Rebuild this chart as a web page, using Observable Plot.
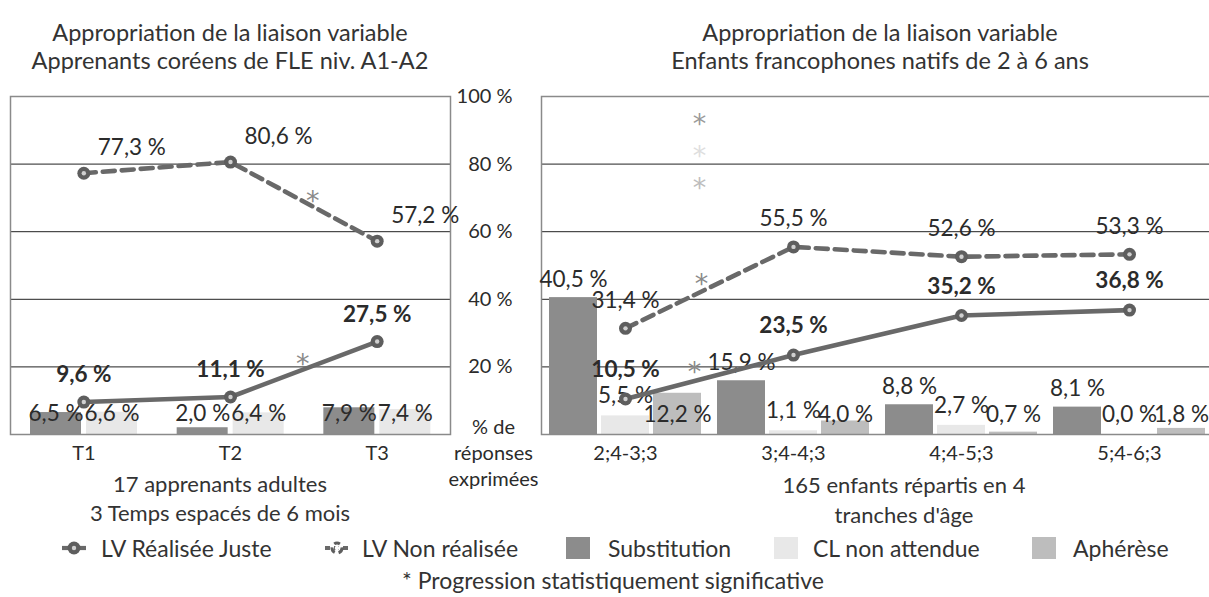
<!DOCTYPE html>
<html>
<head>
<meta charset="utf-8">
<script src="https://cdn.jsdelivr.net/npm/d3@7"></script>
<script src="https://cdn.jsdelivr.net/npm/@observablehq/plot@0.6"></script>
<style>
  html, body { margin: 0; padding: 0; background: #fff; }
  #page { position: relative; width: 1209px; height: 597px; overflow: hidden; font-family: Lato, "Open Sans", sans-serif; color: #333; }
  #page svg { position: absolute; left: 0; top: 0; }
  .txt { position: absolute; text-align: center; white-space: nowrap; color: #333; }
  .leg { position: absolute; top: 534px; font-size: 23px; line-height: 28px; white-space: nowrap; color: #333; }
  .sw { position: absolute; width: 24px; height: 22px; top: 537px; }
</style>
</head>
<body>
<div id="page"></div>
<script>
// ---------- data ----------
const leftTitle = ["Appropriation de la liaison variable", "Apprenants coréens de FLE niv. A1-A2"];
const rightTitle = ["Appropriation de la liaison variable", "Enfants francophones natifs de 2 à 6 ans"];
const leftCaption = ["17 apprenants adultes", "3 Temps espacés de 6 mois"];
const rightCaption = ["165 enfants répartis en 4", "tranches d'âge"];
const yAxisTitle = ["% de", "réponses", "exprimées"];
const footnote = "* Progression statistiquement significative";

const seriesNames = ["LV Réalisée Juste", "LV Non réalisée", "Substitution", "CL non attendue", "Aphérèse"];

const leftCategories = ["T1", "T2", "T3"];
const leftRealiseeJuste = [9.6, 11.1, 27.5];
const leftNonRealisee = [77.3, 80.6, 57.2];
const leftSubstitution = [6.5, 2.0, 7.9];
const leftCLNonAttendue = [6.6, 6.4, 7.4];

const rightCategories = ["2;4-3;3", "3;4-4;3", "4;4-5;3", "5;4-6;3"];
const rightRealiseeJuste = [10.5, 23.5, 35.2, 36.8];
const rightNonRealisee = [31.4, 55.5, 52.6, 53.3];
const rightSubstitution = [40.5, 15.9, 8.8, 8.1];
const rightCLNonAttendue = [5.5, 1.1, 2.7, 0.0];
const rightApherese = [12.2, 4.0, 0.7, 1.8];

const yTicks = [20, 40, 60, 80, 100];
const gridValues = [20, 40, 60, 80];

// significant progressions (between two consecutive categories)
const leftSigLines = [{series: "LV Non réalisée", from: 1}, {series: "LV Réalisée Juste", from: 1}];
const rightSigLines = [{series: "LV Non réalisée", from: 0}, {series: "LV Réalisée Juste", from: 0}];
const rightSigBars = ["Substitution", "CL non attendue", "Aphérèse"];

// ---------- styles ----------
const colors = {
  line: "#696969",
  marker: "#5e5e5e",
  markerCenter: "#d0d0d0",
  "Substitution": "#8c8c8c",
  "CL non attendue": "#e8e8e8",
  "Aphérèse": "#bdbdbd",
  grid: "#222",
  frame: "#8a8a8a",
  text: "#2b2b2b",
  star: "#8a8a8a"
};
const LABEL = 22.5, TICK = 20, STAR = 27, STARFONT = "'DejaVu Sans', sans-serif";
const fmt = v => v.toFixed(1).replace(".", ",") + " %";
const rows = (cats, vals) => cats.map((c, i) => ({cat: c, v: vals[i], i}));

const page = document.getElementById("page");
const W = 1209, H = 597, top0 = 96, bottom0 = 163;

function lineMarks(cats, vals, dashed) {
  const d = rows(cats, vals);
  return [
    Plot.line(d, {x: "cat", y: "v", stroke: colors.line, strokeWidth: 4.6,
      strokeDasharray: dashed ? "12,7" : null, curve: "linear"}),
    Plot.dot(d, {x: "cat", y: "v", r: 6.5, fill: colors.marker}),
    Plot.dot(d, {x: "cat", y: "v", r: 2.2, fill: colors.markerCenter})
  ];
}
const fontStyle = {background: "transparent", fontFamily: "Lato, 'Open Sans', sans-serif", fontSize: "20px", color: colors.text, overflow: "visible"};

// ---------- left chart ----------
const lb = (450 - 10) / 3;
const lSub = rows(leftCategories, leftSubstitution);
const lCL = rows(leftCategories, leftCLNonAttendue);
const lRJ = rows(leftCategories, leftRealiseeJuste);
const lNR = rows(leftCategories, leftNonRealisee);

const leftPlot = Plot.plot({
  width: W, height: H,
  marginLeft: 10, marginRight: W - 450, marginTop: top0, marginBottom: bottom0,
  x: {domain: leftCategories, padding: 0, round: false, axis: null},
  y: {domain: [0, 100], axis: null},
  style: fontStyle,
  marks: [
    Plot.ruleY(gridValues, {stroke: colors.grid, strokeWidth: 1}),
    Plot.barY(lSub, {x: "cat", y: "v", fill: colors["Substitution"], insetLeft: 20, insetRight: lb - 71}),
    Plot.barY(lCL, {x: "cat", y: "v", fill: colors["CL non attendue"], insetLeft: 76, insetRight: lb - 127}),
    Plot.frame({stroke: colors.frame, strokeWidth: 1.5}),
    Plot.text(lSub, {x: "cat", y: 0, text: d => fmt(d.v), dx: 20 + 25.5 - lb / 2, dy: -21, fontSize: LABEL, fill: colors.text}),
    Plot.text(lCL, {x: "cat", y: 0, text: d => fmt(d.v), dx: 76 + 25.5 - lb / 2, dy: -21, fontSize: LABEL, fill: colors.text}),
    ...lineMarks(leftCategories, leftNonRealisee, true),
    ...lineMarks(leftCategories, leftRealiseeJuste, false),
    Plot.text(lNR, {x: "cat", y: "v", text: d => fmt(d.v), dx: 48, dy: -25, fontSize: LABEL, fill: colors.text}),
    Plot.text(lRJ, {x: "cat", y: "v", text: d => fmt(d.v), dy: -27, fontSize: LABEL, fontWeight: "bold", fill: colors.text}),
    // significance stars on lines
    Plot.text(leftSigLines.filter(s => s.series === "LV Non réalisée"), {
      x: s => leftCategories[s.from], y: s => (leftNonRealisee[s.from] + leftNonRealisee[s.from + 1]) / 2,
      text: () => "*", dx: lb / 2 + 9, dy: 0, fontSize: STAR, fontFamily: STARFONT, fill: colors.star}),
    Plot.text(leftSigLines.filter(s => s.series === "LV Réalisée Juste"), {
      x: s => leftCategories[s.from], y: s => (leftRealiseeJuste[s.from] + leftRealiseeJuste[s.from + 1]) / 2,
      text: () => "*", dx: lb / 2 - 1, dy: -5, fontSize: STAR, fontFamily: STARFONT, fill: colors.star}),
    // x tick labels
    Plot.text(leftCategories, {x: d => d, text: d => d, frameAnchor: "bottom", lineAnchor: "top", dy: 11, fontSize: TICK, fill: colors.text}),
    // y tick labels (between the two panels)
    Plot.text(yTicks, {y: d => d, text: d => d + " %", frameAnchor: "right", textAnchor: "end", dx: 62, fontSize: 20, fill: colors.text}),
    Plot.text([yAxisTitle.join("\n")], {y: 0, text: d => d, frameAnchor: "right", textAnchor: "middle", lineAnchor: "top", dx: 43, dy: -19, lineHeight: 1.3, fontSize: 20, fill: colors.text})
  ]
});
page.appendChild(leftPlot);

// ---------- right chart ----------
const rb = (1213 - 541) / 4;
const rSub = rows(rightCategories, rightSubstitution);
const rCL = rows(rightCategories, rightCLNonAttendue);
const rAp = rows(rightCategories, rightApherese);
const rRJ = rows(rightCategories, rightRealiseeJuste);
const rNR = rows(rightCategories, rightNonRealisee);

const rightPlot = Plot.plot({
  width: 1213, height: H,
  marginLeft: 541, marginRight: 0, marginTop: top0, marginBottom: bottom0,
  x: {domain: rightCategories, padding: 0, round: false, axis: null},
  y: {domain: [0, 100], axis: null},
  style: {...fontStyle, maxWidth: "none"},
  marks: [
    Plot.ruleY(gridValues, {stroke: colors.grid, strokeWidth: 1}),
    Plot.barY(rSub, {x: "cat", y: "v", fill: colors["Substitution"], insetLeft: 8, insetRight: rb - 56}),
    Plot.barY(rCL, {x: "cat", y: "v", fill: colors["CL non attendue"], insetLeft: 60, insetRight: rb - 108}),
    Plot.barY(rAp, {x: "cat", y: "v", fill: colors["Aphérèse"], insetLeft: 112, insetRight: rb - 160}),
    Plot.frame({stroke: colors.frame, strokeWidth: 1.5}),
    Plot.text(rSub, {x: "cat", y: "v", text: d => fmt(d.v), dx: 32 - rb / 2, dy: -18, fontSize: LABEL, fill: colors.text}),
    Plot.text(rCL, {x: "cat", y: "v", text: d => fmt(d.v), dx: 0, dy: -20, fontSize: LABEL, fill: colors.text}),
    Plot.text(rAp, {x: "cat", y: 0, text: d => fmt(d.v), dx: 136 - rb / 2, dy: -20, fontSize: LABEL, fill: colors.text}),
    ...lineMarks(rightCategories, rightNonRealisee, true),
    ...lineMarks(rightCategories, rightRealiseeJuste, false),
    Plot.text(rNR, {x: "cat", y: "v", text: d => fmt(d.v), dy: -28, fontSize: LABEL, fill: colors.text}),
    Plot.text(rRJ, {x: "cat", y: "v", text: d => fmt(d.v), dy: -29, fontSize: LABEL, fontWeight: "bold", fill: colors.text}),
    // significance stars
    Plot.text(rightSigLines.filter(s => s.series === "LV Non réalisée"), {
      x: s => rightCategories[s.from], y: s => (rightNonRealisee[s.from] + rightNonRealisee[s.from + 1]) / 2,
      text: () => "*", dx: rb / 2 - 8, dy: -3, fontSize: STAR, fontFamily: STARFONT, fill: colors.star}),
    Plot.text(rightSigLines.filter(s => s.series === "LV Réalisée Juste"), {
      x: s => rightCategories[s.from], y: s => (rightRealiseeJuste[s.from] + rightRealiseeJuste[s.from + 1]) / 2,
      text: () => "*", dx: rb / 2 - 15, dy: -5, fontSize: STAR, fontFamily: STARFONT, fill: colors.star}),
    Plot.text(rightSigBars, {
      x: () => rightCategories[0], y: (s, i) => 94 - i * 9.4,
      text: () => "*", dx: rb / 2 - 10, dy: 8, fontSize: STAR, fontFamily: STARFONT,
      fill: s => s === "Substitution" ? "#9a9a9a" : s === "CL non attendue" ? "#dedede" : "#bdbdbd"}),
    Plot.text(rightCategories, {x: d => d, text: d => d, frameAnchor: "bottom", lineAnchor: "top", dy: 11, fontSize: TICK, fill: colors.text})
  ]
});
rightPlot.style.maxWidth = "none";
page.appendChild(rightPlot);

// ---------- HTML texts ----------
function addText(lines, cx, top, lh, fs) {
  const d = document.createElement("div");
  d.className = "txt";
  d.style.left = (cx - 300) + "px";
  d.style.width = "600px";
  d.style.top = top + "px";
  d.style.lineHeight = lh + "px";
  d.style.fontSize = fs + "px";
  d.innerHTML = lines.map(s => s.replace(/&/g, "&amp;").replace(/</g, "&lt;")).join("<br>");
  page.appendChild(d);
}
addText(leftTitle, 230, 18, 28, 23.5);
addText(rightTitle, 880, 18, 28, 23.5);
addText(leftCaption, 220, 469, 29, 22);
addText(rightCaption, 904, 470, 30, 22);
addText([footnote], 613, 566, 28, 23);

// ---------- legend ----------
function legText(label, left) {
  const d = document.createElement("div");
  d.className = "leg";
  d.style.left = left + "px";
  d.textContent = label;
  page.appendChild(d);
}
function legIcon(dashed, cx) {
  const ns = "http://www.w3.org/2000/svg";
  const s = document.createElementNS(ns, "svg");
  s.setAttribute("width", 36); s.setAttribute("height", 20);
  s.style.left = (cx - 18) + "px"; s.style.top = "538px";
  const ln = document.createElementNS(ns, "line");
  ln.setAttribute("x1", 6); ln.setAttribute("x2", 30); ln.setAttribute("y1", 10); ln.setAttribute("y2", 10);
  ln.setAttribute("stroke", colors.line); ln.setAttribute("stroke-width", 4.2);
  if (dashed) ln.setAttribute("stroke-dasharray", "5,4");
  s.appendChild(ln);
  const c = document.createElementNS(ns, "circle");
  c.setAttribute("cx", 18); c.setAttribute("cy", 10); c.setAttribute("r", dashed ? 5 : 6.5);
  c.setAttribute("fill", dashed ? "none" : colors.marker);
  if (dashed) { c.setAttribute("stroke", colors.marker); c.setAttribute("stroke-width", 3); c.setAttribute("stroke-dasharray", "6,4"); }
  s.appendChild(c);
  const c2 = document.createElementNS(ns, "circle");
  c2.setAttribute("cx", 18); c2.setAttribute("cy", 10); c2.setAttribute("r", 2.2);
  c2.setAttribute("fill", dashed ? "#fff" : colors.markerCenter);
  s.appendChild(c2);
  page.appendChild(s);
}
function legSwatch(color, left) {
  const d = document.createElement("div");
  d.className = "sw";
  d.style.left = left + "px";
  d.style.background = color;
  page.appendChild(d);
}
legIcon(false, 74); legText(seriesNames[0], 101);
legIcon(true, 337); legText(seriesNames[1], 362);
legSwatch(colors["Substitution"], 566); legText(seriesNames[2], 608);
legSwatch(colors["CL non attendue"], 774); legText(seriesNames[3], 813);
legSwatch(colors["Aphérèse"], 1032); legText(seriesNames[4], 1073);
</script>
</body>
</html>
